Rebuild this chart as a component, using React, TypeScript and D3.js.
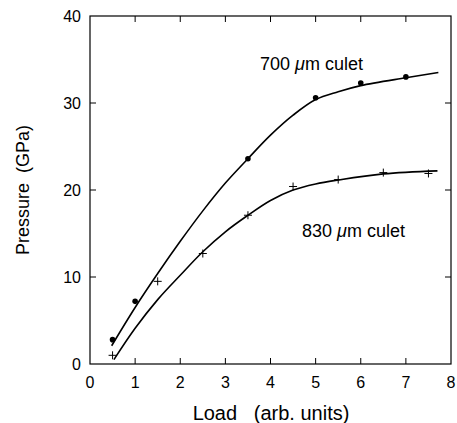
import React from "react";
import * as d3 from "d3";

const xTicks = [0, 1, 2, 3, 4, 5, 6, 7, 8];
const yTicks = [0, 10, 20, 30, 40];

const load700 = [0.5, 1, 3.5, 5, 6, 7];
const pressure700 = [2.8, 7.2, 23.6, 30.6, 32.3, 33.0];

const load830 = [0.5, 1.5, 2.5, 3.5, 4.5, 5.5, 6.5, 7.5];
const pressure830 = [1.0, 9.5, 12.7, 17.1, 20.4, 21.2, 22.0, 21.9];

const fitX700 = [0.48, 1, 1.5, 2, 2.5, 3, 3.5, 4, 4.5, 5, 5.5, 6, 7, 7.72];
const fitY700 = [2.1, 6.5, 10.4, 14.1, 17.6, 20.8, 23.6, 26.3, 28.6, 30.4, 31.3, 32.0, 32.9, 33.5];

const fitX830 = [0.53, 1, 1.5, 2, 2.5, 3, 3.5, 4, 4.5, 5, 5.5, 6.5, 7.7];
const fitY830 = [0.5, 4.1, 7.4, 10.2, 12.9, 15.2, 17.1, 18.8, 20.0, 20.7, 21.15, 21.85, 22.2];

export default function App() {
  const W = 457, H = 423;
  const L = 90, R = 451, T = 16, B = 364;
  const x = d3.scaleLinear().domain([0, 8]).range([L, R]);
  const y = d3.scaleLinear().domain([0, 40]).range([B, T]);
  const line = d3
    .line<[number, number]>()
    .x((d) => x(d[0]))
    .y((d) => y(d[1]))
    .curve(d3.curveCatmullRom.alpha(0.5));
  const fit700 = fitX700.map((v, i) => [v, fitY700[i]] as [number, number]);
  const fit830 = fitX830.map((v, i) => [v, fitY830[i]] as [number, number]);
  const font = "'Liberation Sans', Arial, Helvetica, sans-serif";
  const tk = 6;
  return (
    <svg width={W} height={H} style={{ position: "absolute", left: 0, top: 0 }} fontFamily={font}>
      <rect x={0} y={0} width={W} height={H} fill="#fff" />
      <rect x={L} y={T} width={R - L} height={B - T} fill="none" stroke="#000" strokeWidth={1.2} />
      {xTicks.slice(1, -1).map((t) => (
        <g key={"xt" + t}>
          <line x1={x(t)} x2={x(t)} y1={B} y2={B - tk} stroke="#000" />
          <line x1={x(t)} x2={x(t)} y1={T} y2={T + tk} stroke="#000" />
        </g>
      ))}
      {yTicks.slice(1, -1).map((t) => (
        <g key={"yt" + t}>
          <line x1={L} x2={L + tk} y1={y(t)} y2={y(t)} stroke="#000" />
          <line x1={R} x2={R - tk} y1={y(t)} y2={y(t)} stroke="#000" />
        </g>
      ))}
      {xTicks.map((t) => (
        <text key={"xl" + t} x={x(t)} y={388} textAnchor="middle" fontSize={16}>
          {t}
        </text>
      ))}
      {yTicks.map((t) => (
        <text key={"yl" + t} x={L - 9} y={y(t)} dy="0.36em" textAnchor="end" fontSize={16}>
          {t}
        </text>
      ))}
      <text x={271} y={420} textAnchor="middle" fontSize={20} style={{ whiteSpace: "pre" }}>
        {"Load   (arb. units)"}
      </text>
      <text
        transform={`translate(29,${(T + B) / 2}) rotate(-90)`}
        textAnchor="middle"
        fontSize={18}
        style={{ whiteSpace: "pre" }}
      >
        {"Pressure  (GPa)"}
      </text>
      <path d={line(fit700) || ""} fill="none" stroke="#000" strokeWidth={1.6} />
      <path d={line(fit830) || ""} fill="none" stroke="#000" strokeWidth={1.6} />
      {load700.map((v, i) => (
        <circle key={"p7" + i} cx={x(v)} cy={y(pressure700[i])} r={2.8} fill="#000" />
      ))}
      {load830.map((v, i) => (
        <g key={"p8" + i} stroke="#000" strokeWidth={1}>
          <line x1={x(v) - 4} x2={x(v) + 4} y1={y(pressure830[i])} y2={y(pressure830[i])} />
          <line x1={x(v)} x2={x(v)} y1={y(pressure830[i]) - 4} y2={y(pressure830[i]) + 4} />
        </g>
      ))}
      <text x={260} y={70} fontSize={18}>
        700 <tspan fontStyle="italic">μ</tspan>m culet
      </text>
      <text x={302} y={237} fontSize={18}>
        830 <tspan fontStyle="italic">μ</tspan>m culet
      </text>
    </svg>
  );
}
